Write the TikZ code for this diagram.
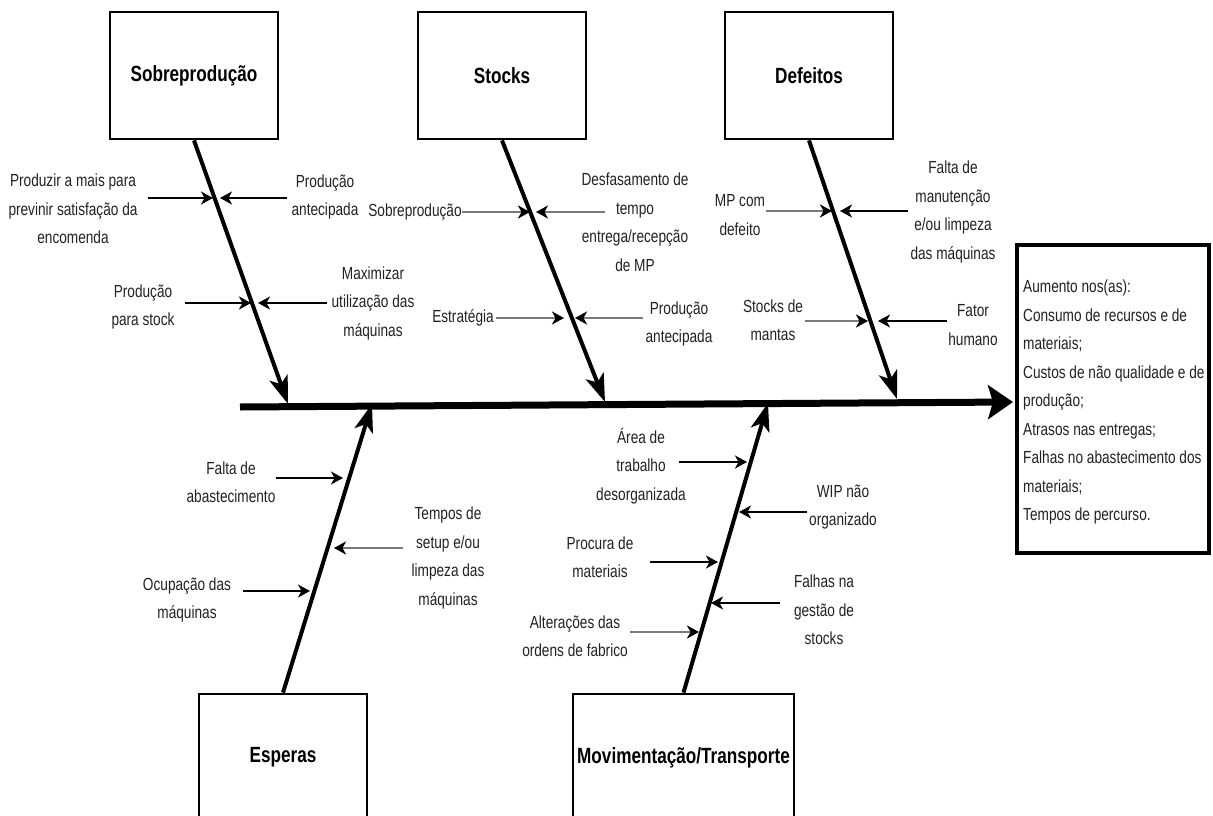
\documentclass[tikz,border=0pt]{standalone}
\usepackage{fontspec}
\setmainfont{Liberation Sans}[FakeStretch=0.78]
\usetikzlibrary{arrows.meta}
\definecolor{txt}{HTML}{222222}
\definecolor{subgray}{HTML}{7A7A7A}
\begin{document}
\begin{tikzpicture}[x=1pt,y=-1pt,
  lbl/.style={align=center, text=txt, font=\fontsize{17.5}{28.5}\selectfont, inner sep=0pt},
  cat/.style={draw, line width=2.8pt, minimum width=168pt, minimum height=127pt, inner sep=0pt,
              font=\bfseries\fontsize{22}{26}\selectfont},
  bone/.style={line width=4pt, -{Stealth[length=28pt,width=19pt,inset=7pt]}},
  sub/.style={line width=2pt, -{Stealth[length=12pt,width=13pt,inset=3.5pt]}},
  subg/.style={line width=2.6pt, draw=subgray, -{Stealth[length=12pt,width=13pt,inset=3.5pt,color=black]}},
  spine/.style={line width=7pt, -{Stealth[length=25pt,width=34pt,inset=5pt]}}]
\useasboundingbox (0,0) rectangle (1213,816);
\clip (0,0) rectangle (1213,816);
\fill[white] (0,0) rectangle (1213,816);

% category boxes
\node[cat] (sobre) at (194,75.5) {Sobreprodução};
\node[cat] (stocks) at (502,75.5) {Stocks};
\node[cat] (defeitos) at (809,75.5) {Defeitos};
\node[cat] (esperas) at (283,757.5) {Esperas};
\node[cat, minimum width=221pt] (movim) at (683.5,757.5) {Movimentação/Transporte};

% effect box
\node[draw, line width=4pt, minimum width=192pt, minimum height=308pt, inner sep=0pt] (effect) at (1112.5,398.5) {};
\node[lbl, align=left, anchor=west] (effecttext) at (1023,402)
  {Aumento nos(as):\\Consumo de recursos e de\\materiais;\\Custos de não qualidade e de\\produção;\\Atrasos nas entregas;\\Falhas no abastecimento dos\\materiais;\\Tempos de percurso.};

% spine
\coordinate (spineL) at (240,407);
\coordinate (spineR) at (1013,402);
\draw[spine] (spineL) -- (spineR);

% bones
\coordinate (b1) at (288,404);
\coordinate (b2) at (605,402);
\coordinate (b3) at (897,399);
\coordinate (b4) at (372,404);
\coordinate (b5) at (768,403);
\draw[bone] (sobre.south) -- (b1);
\draw[bone] (stocks.south) -- (b2);
\draw[bone] (defeitos.south) -- (b3);
\draw[bone] (esperas.north) -- (b4);
\draw[bone] (movim.north) -- (b5);

% Sobreprodução causes
\node[lbl] (s1) at (73,209) {Produzir a mais para\\previnir satisfação da\\encomenda};
\node[lbl] (s2) at (325,197) {Produção\\antecipada};
\node[lbl] (s3) at (143,307) {Produção\\para stock};
\node[lbl] (s4) at (373,303) {Maximizar\\utilização das\\máquinas};
\draw[sub] (148,198) -- (213,198);
\draw[sub] (287,198) -- (220,198);
\draw[sub] (185,303) -- (251,303);
\draw[sub] (327,303) -- (258,303);

% Stocks causes
\node[lbl] (t1) at (415,212) {Sobreprodução};
\node[lbl] (t2) at (635,222) {Desfasamento de\\tempo\\entrega/recepção\\de MP};
\node[lbl] (t3) at (463,318) {Estratégia};
\node[lbl] (t4) at (679,324) {Produção\\antecipada};
\draw[subg] (t1.east) -- (530,212);
\draw[subg] (605,212) -- (536,212);
\draw[subg] (t3.east) ++(2,0) -- (564,318);
\draw[subg] (643,318) -- (575,318);

% Defeitos causes
\node[lbl] (d1) at (740,215) {MP com\\defeito};
\node[lbl] (d2) at (953,212) {Falta de\\manutenção\\e/ou limpeza\\das máquinas};
\node[lbl] (d3) at (773,320) {Stocks de\\mantas};
\node[lbl] (d4) at (973,325) {Fator\\humano};
\draw[subg] (766,211) -- (832,211);
\draw[sub] (908,211) -- (840,211);
\draw[subg] (805,321) -- (868,321);
\draw[sub] (947,321) -- (878,321);

% Esperas causes
\node[lbl] (e1) at (231,482) {Falta de\\abastecimento};
\node[lbl] (e2) at (448,558) {Tempos de\\setup e/ou\\limpeza das\\máquinas};
\node[lbl] (e3) at (187,600) {Ocupação das\\máquinas};
\draw[sub] (276,478) -- (343,478);
\draw[subg] (403,548) -- (334,548);
\draw[sub] (243,591) -- (310,591);

% Movimentação causes
\node[lbl] (m1) at (641,466) {Área de\\trabalho\\desorganizada};
\node[lbl] (m2) at (843,507) {WIP não\\organizado};
\node[lbl] (m3) at (600,557) {Procura de\\materiais};
\node[lbl] (m4) at (824,610) {Falhas na\\gestão de\\stocks};
\node[lbl] (m5) at (575,636) {Alterações das\\ordens de fabrico};
\draw[sub] (679,462) -- (747,462);
\draw[sub] (807,512) -- (739,512);
\draw[sub] (650,562) -- (718,562);
\draw[sub] (780,603) -- (711,603);
\draw[subg] (630,632) -- (699,632);
\end{tikzpicture}
\end{document}
